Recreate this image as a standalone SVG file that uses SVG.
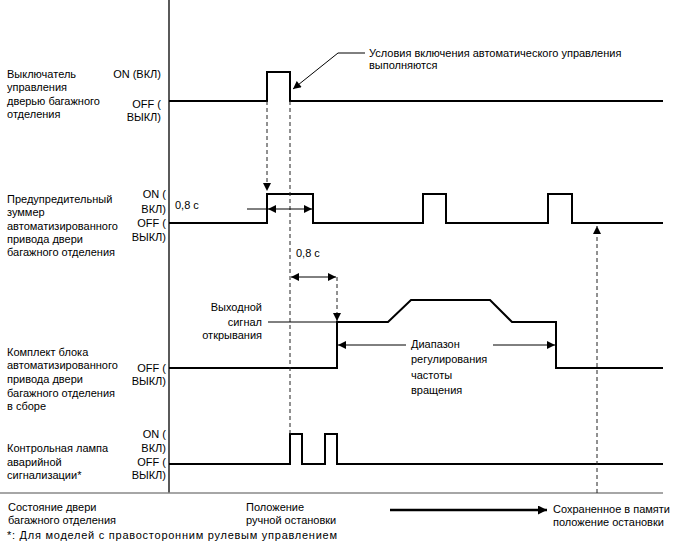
<svg xmlns="http://www.w3.org/2000/svg" width="688" height="560" viewBox="0 0 688 560">
<defs>
<style>
text{font-family:"Liberation Sans",Arial,sans-serif;font-size:11px;fill:#000}
.r{text-anchor:end}
.sig{fill:none;stroke:#000;stroke-width:2}
.dash{fill:none;stroke:#222;stroke-width:1;stroke-dasharray:4,3}
.thin{fill:none;stroke:#000;stroke-width:1}
</style>
<marker id="ah" viewBox="0 0 10 10" refX="10" refY="5" markerWidth="10" markerHeight="8" markerUnits="userSpaceOnUse" orient="auto-start-reverse"><path d="M0,0L10,5L0,10z" fill="#000"/></marker>
<marker id="ahb" viewBox="0 0 10 10" refX="10" refY="5" markerWidth="14" markerHeight="9" markerUnits="userSpaceOnUse" orient="auto"><path d="M0,0L10,5L0,10z" fill="#000"/></marker>
</defs>
<rect width="688" height="560" fill="#fff"/>
<g id="axes">
<line x1="169" y1="0" x2="169" y2="493" stroke="#000" stroke-width="1.3"/>
<line x1="0" y1="493" x2="663" y2="493" stroke="#888" stroke-width="1.5"/>
</g>
<g id="row-switch">
<text x="7" y="78">Выключатель</text>
<text x="7" y="91">управления</text>
<text x="7" y="105">дверью багажного</text>
<text x="7" y="118">отделения</text>
<text class="r" x="161" y="78">ON (ВКЛ)</text>
<text class="r" x="161" y="108">OFF (</text>
<text class="r" x="161" y="121">ВЫКЛ)</text>
<polyline class="sig" points="169,101 267,101 267,72 290,72 290,101 663,101"/>
</g>
<g id="row-buzzer">
<text x="7" y="203">Предупредительный</text>
<text x="7" y="216">зуммер</text>
<text x="7" y="230">автоматизированного</text>
<text x="7" y="243">привода двери</text>
<text x="7" y="256">багажного отделения</text>
<text class="r" x="166" y="198">ON (</text>
<text class="r" x="166" y="213">ВКЛ)</text>
<text class="r" x="166" y="227">OFF (</text>
<text class="r" x="166" y="241">ВЫКЛ)</text>
<polyline class="sig" points="169,223 267,223 267,194 313,194 313,223 423,223 423,194 446,194 446,223 548,223 548,194 572,194 572,223 663,223"/>
</g>
<g id="row-motor">
<text x="7" y="356">Комплект блока</text>
<text x="7" y="369">автоматизированного</text>
<text x="7" y="383">привода двери</text>
<text x="7" y="397">багажного отделения</text>
<text x="7" y="410">в сборе</text>
<text class="r" x="166" y="372">OFF (</text>
<text class="r" x="166" y="385">ВЫКЛ)</text>
<polyline class="sig" points="169,368 337,368 337,322 388,322 411,300 490,300 512,322 556,322 556,368 663,368"/>
</g>
<g id="row-lamp">
<text x="7" y="452">Контрольная лампа</text>
<text x="7" y="466">аварийной</text>
<text x="7" y="479">сигнализации*</text>
<text class="r" x="166" y="438">ON (</text>
<text class="r" x="166" y="452">ВКЛ)</text>
<text class="r" x="166" y="466">OFF (</text>
<text class="r" x="166" y="479">ВЫКЛ)</text>
<polyline class="sig" points="169,464 290,464 290,434 302,434 302,464 325,464 325,434 337,434 337,464 663,464"/>
</g>
<g id="connectors">
<line class="dash" x1="267" y1="101" x2="267" y2="191" marker-end="url(#ah)"/>
<line class="dash" x1="290" y1="101" x2="290" y2="434"/>
<line class="dash" x1="337" y1="277" x2="337" y2="321" marker-end="url(#ah)"/>
<line class="dash" x1="597" y1="493" x2="597" y2="226" stroke="#555" marker-end="url(#ah)"/>
<polyline class="thin" points="365,53 338,53 293,89" marker-end="url(#ah)"/>
<line class="thin" x1="247" y1="209" x2="267" y2="209"/>
<line class="thin" x1="268" y1="209" x2="312" y2="209" stroke="#444" marker-start="url(#ah)" marker-end="url(#ah)"/>
<line class="thin" x1="291" y1="277" x2="336" y2="277" stroke="#444" marker-start="url(#ah)" marker-end="url(#ah)"/>
<line class="thin" x1="268" y1="322" x2="337" y2="322"/>
<line class="thin" x1="406" y1="345" x2="338" y2="345" marker-end="url(#ah)"/>
<line class="thin" x1="493" y1="345" x2="555" y2="345" marker-end="url(#ah)"/>
<line x1="390" y1="510" x2="547" y2="510" stroke="#000" stroke-width="2.5" marker-end="url(#ahb)"/>
</g>
<g id="labels">
<text x="369" y="57">Условия включения автоматического управления</text>
<text x="369" y="69">выполняются</text>
<text x="175" y="209">0,8 с</text>
<text x="296" y="257">0,8 с</text>
<text class="r" x="262" y="311">Выходной</text>
<text class="r" x="262" y="326">сигнал</text>
<text class="r" x="262" y="339">открывания</text>
<text x="411" y="348">Диапазон</text>
<text x="411" y="363">регулирования</text>
<text x="411" y="379">частоты</text>
<text x="411" y="394">вращения</text>
<text x="8" y="511">Состояние двери</text>
<text x="8" y="524">багажного отделения</text>
<text x="246" y="511">Положение</text>
<text x="246" y="524">ручной остановки</text>
<text x="553" y="513">Сохраненное в памяти</text>
<text x="553" y="526">положение остановки</text>
<text x="7" y="539" textLength="330" lengthAdjust="spacing">*: Для моделей с правосторонним рулевым управлением</text>
</g>
</svg>
